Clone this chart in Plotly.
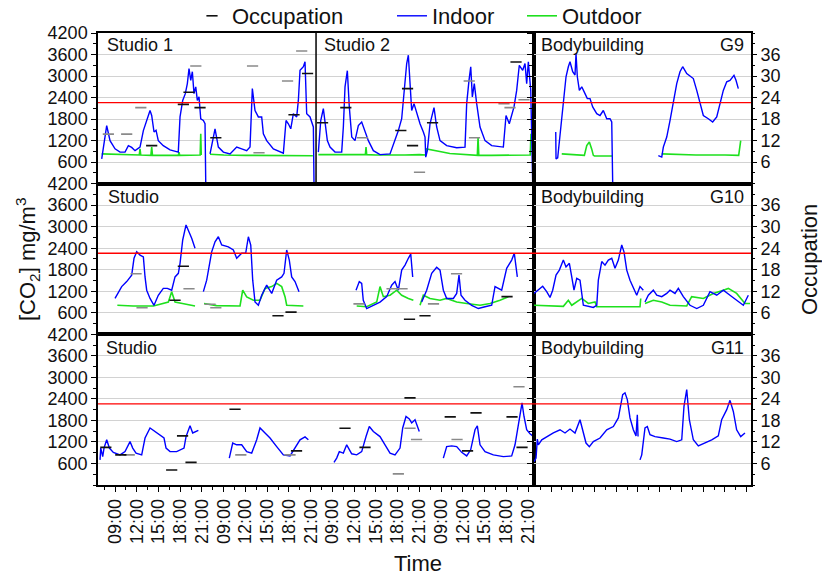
import plotly.graph_objects as go

# ---------------- data ----------------
THRESHOLD = 2260                      # mg/m3 limit (red line)
TIME_LABELS = ["09:00", "12:00", "15:00", "18:00", "21:00"]
N_DAYS_STUDIO = 4
N_DAYS_GYM = 2
CO2_TICKS = [600, 1200, 1800, 2400, 3000, 3600, 4200]
OCC_TICKS = [6, 12, 18, 24, 30, 36]

# time axis: compressed clock, hours; day k 09:00 -> 15*k, 21:00 -> 15*k+12
# ---- Studio 1 (top-left, days 1-2)
STUDIO1_INDOOR = [(-1.84, 690), (-1.15, 1620), (-0.69, 1200), (0, 970), (0.69, 880), (1.38, 880), (1.84, 1060),
                  (2.30, 1010), (2.76, 920), (3.45, 1020), (3.91, 1480), (4.37, 1760), (4.83, 2040), (5.06, 1900),
                  (5.38, 1440), (5.66, 1490), (5.97, 1200), (6.66, 1060), (7.59, 940), (8.73, 880), (8.97, 1860),
                  (9.34, 2320), (9.70, 2510), (9.98, 2790), (10.21, 3210), (10.45, 2880), (10.67, 3120),
                  (10.90, 2510), (11.14, 2700), (11.36, 2320), (11.59, 2420), (11.83, 1810), (12.19, 1760),
                  (12.42, 1670), (12.52, 0), None,
                  (13.11, 830), (13.80, 1530), (14.26, 1020), (14.95, 880), (15.87, 830), (16.79, 1020),
                  (17.48, 970), (18.17, 920), (18.63, 1020), (18.95, 2650), (19.32, 2040), (19.55, 1950),
                  (19.78, 1860), (20.24, 1860), (20.47, 1390), (20.93, 1200), (21.85, 970), (23.23, 850),
                  (23.60, 1760), (23.92, 1670), (24.25, 1530), (24.61, 1950), (25.07, 1860), (25.30, 2320),
                  (25.53, 3160), (25.99, 3260), (26.22, 3400), (26.45, 1950), (26.91, 1860), (27.37, 1580),
                  (27.46, 0)]
STUDIO1_OUTDOOR = [(-1.84, 830), (0, 820), (2.0, 800), (3.35, 800), (3.45, 970), (3.55, 800), (4.95, 790),
                   (5.06, 1020), (5.17, 790), (7.0, 790), (8.73, 790), (8.83, 880), (8.93, 790), (11.75, 800),
                   (11.83, 1390), (11.9, 800), None,
                   (13.11, 820), (15.0, 800), (18.0, 790), (21.0, 790), (24.0, 790), (27.3, 780)]
STUDIO1_OCC_BLACK = [(5.06, 10.6), (9.43, 22.1), (10.21, 25.5), (11.73, 21.2), (13.91, 12.8), (24.70, 19.2),
                     (26.57, 30.7)]
STUDIO1_OCC_GRAY = [(-0.92, 13.8), (1.61, 13.8), (3.56, 21.2), (11.15, 32.8), (18.98, 32.8), (19.87, 8.6),
                    (23.81, 28.6), (25.76, 37.0)]

# ---- Studio 2 (top-left, days 3-4)
STUDIO2_INDOOR = [(28.06, 880), (28.39, 1760), (28.75, 2090), (28.98, 1760), (29.30, 1200), (29.67, 1020),
                  (30.36, 880), (31.28, 880), (31.51, 1580), (31.74, 2700), (32.06, 3150), (32.33, 2140),
                  (32.67, 1300), (33.12, 1200), (33.58, 1620), (34.04, 1720), (34.5, 1480), (34.96, 1200),
                  (35.65, 920), (36.57, 810), (37.95, 830), (38.64, 1200), (39.10, 1480), (39.56, 1810),
                  (40.02, 2790), (40.25, 3350), (40.48, 3580), (40.71, 2930), (40.94, 2040), (41.26, 2230),
                  (41.63, 1950), (42.09, 1670), (42.55, 1440), (42.78, 1300), (42.88, 740), (43.10, 920),
                  (43.47, 1670), (44.02, 2120), (44.39, 1580), (44.85, 1200), (45.77, 1060), (47.15, 1000),
                  (48.30, 1020), (48.53, 2230), (48.85, 2880), (49.09, 3260), (49.31, 2420), (49.58, 2790),
                  (49.91, 2230), (50.37, 1580), (51.06, 1200), (51.98, 1060), (53.59, 1020), (53.96, 1900),
                  (54.41, 1670), (55.06, 2140), (55.43, 2600), (55.79, 3300), (56.26, 3160), (56.58, 3350),
                  (56.81, 2790), (57.04, 3400), (57.37, 2600), (57.64, 0)]
STUDIO2_OUTDOOR = [(28.06, 810), (30, 810), (32, 800), (34.55, 810), (34.64, 1020), (34.73, 810), (36, 800),
                   (38, 790), (40, 800), (42, 810), (42.9, 800), (43.0, 970), (44, 940), (45, 890), (46.2, 840),
                   (48.3, 820), (50.0, 790), (50.1, 1300), (50.2, 790), (52, 790), (55, 790), (57.3, 800),
                   (57.4, 1390)]
STUDIO2_OCC_BLACK = [(28.64, 17.0), (31.85, 21.2), (39.44, 14.8), (40.37, 26.5), (41.06, 10.6), (43.82, 17.0),
                     (55.34, 33.9)]
STUDIO2_OCC_GRAY = [(34.16, 12.8), (42.02, 3.2), (48.88, 28.6), (49.61, 12.8), (53.68, 22.3), (54.51, 21.2),
                    (56.44, 23.4)]

# ---- Bodybuilding G9 (top-right)
G9_INDOOR = [(0.65, 1440), (0.69, 690), (0.92, 720), (1.24, 1390), (1.48, 1810), (1.70, 2420), (2.07, 2980),
             (2.39, 3260), (2.62, 3400), (2.99, 3120), (3.31, 3030), (3.45, 3630), (3.63, 2980), (3.91, 2600),
             (4.24, 2700), (4.69, 2510), (5.01, 2370), (5.38, 2370), (5.75, 2140), (6.31, 1950), (6.76, 1900),
             (7.22, 2040), (7.69, 1810), (8.14, 1810), (8.38, 1720), (8.51, 10), (14.03, 10), None,
             (14.81, 780), (15.28, 740), (15.50, 1020), (15.97, 1300), (16.42, 1760), (16.88, 2320),
             (17.35, 2790), (17.80, 3120), (18.17, 3260), (18.73, 3070), (19.64, 2930), (20.11, 2600),
             (20.56, 2230), (21.02, 1900), (21.71, 1810), (22.31, 1720), (22.87, 1860), (23.32, 2230),
             (23.78, 2600), (24.25, 2840), (24.70, 2880), (25.25, 3020), (25.53, 2880), (25.85, 2650)]
G9_OUTDOOR = [(1.48, 830), (3.0, 810), (4.6, 790), (4.93, 1060), (5.29, 1160), (5.61, 970), (5.84, 790),
              (6.0, 770), (8.51, 770), None,
              (15.28, 830), (20, 800), (24, 800), (25.9, 790), (26.18, 1200)]

# ---- Studio (middle-left)
STUDIO_M_INDOOR = [(0, 1000), (0.92, 1330), (1.61, 1470), (2.30, 1650), (2.62, 2120), (2.99, 2300), (3.45, 2210),
                   (3.91, 2160), (4.14, 1600), (4.37, 1230), (4.83, 1000), (5.38, 810), (5.97, 1090), (6.66, 1280),
                   (7.22, 1280), (7.82, 1230), (8.28, 1600), (8.74, 1700), (8.97, 1980), (9.34, 2630),
                   (9.80, 3050), (10.12, 2910), (10.58, 2680), (11.04, 2400), None,
                   (12.19, 1190), (12.65, 1510), (13.34, 2300), (13.80, 2580), (14.26, 2720), (14.72, 2490),
                   (15.64, 2440), (16.33, 2350), (16.79, 2120), (17.48, 2260), (18.03, 2260), (18.40, 2720),
                   (18.73, 2490), (19.00, 1510), (19.32, 900), (19.78, 810), (20.24, 1090), (20.93, 1370),
                   (21.62, 1140), (22.31, 1510), (23.0, 1600), (23.32, 1700), (23.69, 2350), (24.05, 2070),
                   (24.38, 1600), (24.84, 1470), (25.39, 1190), None,
                   (33.26, 1230), (33.71, 1470), (34.04, 1420), (34.26, 950), (34.73, 720), (35.65, 810),
                   (36.57, 900), (37.49, 1050), (38.18, 1370), (38.64, 1470), (39.10, 1230), (39.56, 1790),
                   (40.02, 1930), (40.48, 2120), (40.81, 2240), (41.08, 1600), None,
                   (42.32, 900), (43.01, 1230), (43.70, 1700), (44.39, 1870), (44.85, 1790), (45.31, 1230),
                   (45.77, 1000), (46.69, 1000), (47.15, 1140), (47.47, 1650), (47.75, 1090), (48.30, 950),
                   (49.22, 810), (50.14, 720), (51.06, 770), (51.98, 810), (52.44, 1330), (53.36, 1230),
                   (54.05, 1840), (54.74, 2070), (55.10, 2260), (55.52, 1600)]
STUDIO_M_OUTDOOR = [(0.32, 810), (2.5, 790), (5.3, 790), (7.36, 900), (7.82, 1190), (8.28, 900), (9.3, 860),
                    (11.04, 790), None,
                    (12.28, 860), (14.0, 800), (17.25, 790), (17.62, 1230), (18.17, 1045), (19.09, 950),
                    (20.01, 950), (20.70, 1280), (21.62, 1330), (22.31, 1420), (23.0, 1330), (23.46, 1050),
                    (23.69, 810), (25.99, 790), None,
                    (33.35, 790), (34.73, 770), (36.11, 900), (36.57, 1330), (37.03, 1050), (37.95, 1090),
                    (38.87, 1230), (39.56, 1090), (40.48, 1000), (41.17, 950), None,
                    (42.09, 810), (42.55, 1090), (43.47, 1000), (44.85, 950), (45.77, 1000), (47.15, 900),
                    (48.53, 860), (50.37, 810), (51.75, 860), (53.13, 950), (54.28, 1050)]
STUDIO_M_OCC_BLACK = [(8.28, 9.5), (9.43, 19.0), (22.49, 5.2), (24.29, 6.2), (40.64, 4.2), (42.78, 5.2),
                      (54.1, 10.5)]
STUDIO_M_OCC_GRAY = [(2.90, 16.9), (3.73, 7.4), (10.21, 12.7), (13.11, 8.4), (13.91, 7.4), (33.67, 8.5),
                     (38.23, 12.7), (39.61, 12.7), (43.95, 8.5), (47.13, 16.9)]

# ---- Bodybuilding G10 (middle-right)
G10_INDOOR = [(-2.35, 1140), (-1.75, 1230), (-1.15, 1340), (-0.60, 1190), (-0.14, 1030), (0.23, 1230),
              (0.69, 1650), (1.15, 1790), (1.70, 2070), (2.07, 1880), (2.53, 1980), (2.86, 1600), (3.17, 1230),
              (3.55, 1560), (4.0, 1510), (4.24, 1140), (4.46, 810), (5.84, 750), (6.31, 810), (6.53, 1510),
              (7.0, 2030), (7.45, 1930), (7.91, 2070), (8.38, 2120), (8.83, 1840), (9.29, 2070), (9.76, 2490),
              (10.07, 2300), (10.45, 1790), (10.90, 1510), (11.36, 1280), (11.83, 1090), (12.28, 1330),
              (12.74, 1230), None,
              (12.97, 900), (13.43, 1090), (14.12, 1230), (14.59, 1090), (15.28, 1050), (15.97, 1140),
              (16.42, 1230), (17.11, 1140), (17.57, 1280), (18.26, 1050), (19.18, 810), (20.11, 720),
              (21.02, 810), (21.94, 1190), (22.87, 1090), (23.78, 1230), (24.70, 1090), (25.62, 950),
              (26.54, 810), (27.23, 1090)]
G10_OUTDOOR = [(-2.35, 810), (1.70, 780), (2.39, 950), (2.86, 810), (4.24, 1000), (5.15, 860), (6.07, 900),
               (6.31, 770), (12.28, 770), (12.38, 1000), None,
               (12.97, 860), (14.12, 950), (15.28, 900), (16.42, 810), (18.73, 790), (19.41, 1050),
               (21.02, 1000), (22.40, 1140), (23.78, 1230), (24.47, 1280), (25.62, 1140), (26.77, 860),
               (27.46, 860)]

# ---- Studio (bottom-left)
STUDIO_B_INDOOR = [(-2.07, 700), (-1.97, 1030), (-1.70, 790), (-1.52, 1030), (-1.15, 1260), (-0.78, 1030),
                   (-0.23, 910), (0.69, 840), (1.38, 930), (2.07, 1210), (2.44, 1030), (2.90, 890), (3.68, 840),
                   (4.14, 1310), (4.83, 1590), (5.52, 1490), (6.21, 1400), (6.76, 1310), (7.04, 1030),
                   (7.59, 930), (8.51, 930), (9.52, 1030), (9.80, 1350), (10.35, 1650), (10.72, 1450),
                   (11.50, 1520), None,
                   (15.77, 750), (16.24, 1170), (16.79, 1120), (17.48, 1120), (18.17, 930), (18.86, 890),
                   (19.55, 1260), (20.01, 1590), (20.70, 1450), (21.39, 1310), (22.31, 1070), (23.23, 840),
                   (24.15, 810), (24.84, 1030), (25.53, 1260), (26.22, 1340), (26.68, 1260), None,
                   (30.22, 630), (30.59, 750), (30.95, 930), (31.51, 890), (31.97, 1120), (32.66, 870),
                   (33.35, 840), (34.04, 930), (34.64, 1350), (35.09, 1630), (35.65, 1490), (36.57, 1350),
                   (37.26, 1120), (37.95, 890), (38.64, 840), (39.33, 1030), (39.70, 1590), (40.16, 1910),
                   (40.61, 1840), (40.94, 1730), (41.40, 1820), (41.99, 1490), None,
                   (45.31, 750), (45.77, 1070), (46.46, 1090), (47.15, 1070), (47.84, 910), (48.53, 810),
                   (49.08, 980), (49.68, 1540), (50.00, 1650), (50.37, 1120), (51.06, 930), (52.21, 840),
                   (53.59, 790), (54.74, 810), (55.20, 1120), (55.66, 1730), (55.89, 1910), (56.17, 2290),
                   (56.44, 1910), (56.81, 1540), (57.27, 1430), (57.64, 1370)]
STUDIO_B_OCC_BLACK = [(-1.27, 10.5), (0.80, 8.4), (7.82, 4.2), (9.32, 13.7), (10.49, 6.3), (16.56, 21.1),
                      (25.05, 9.5), (31.74, 15.8), (34.50, 10.5), (40.71, 24.3), (46.26, 19.0), (48.65, 9.5),
                      (49.82, 20.1), (54.79, 19.0), (56.17, 10.5)]
STUDIO_B_OCC_GRAY = [(1.96, 8.4), (17.36, 8.4), (24.15, 8.4), (39.10, 3.1), (40.71, 15.8), (41.61, 12.7),
                     (47.20, 12.7), (55.75, 27.4)]

# ---- Bodybuilding G11 (bottom-right)
G11_INDOOR = [(-2.35, 650), (-2.07, 750), (-1.89, 1280), (-1.75, 1120), (-1.28, 1260), (-0.60, 1350),
              (0.32, 1450), (1.24, 1540), (1.93, 1450), (2.62, 1560), (3.31, 1450), (4.0, 1820), (4.37, 1540),
              (4.83, 1170), (5.29, 1070), (5.84, 1210), (6.76, 1310), (7.69, 1540), (8.60, 1630), (9.29, 1870),
              (9.89, 2520), (10.21, 2570), (10.53, 2380), (10.90, 1870), (11.36, 1540), (11.73, 1370),
              (11.91, 1960), (12.01, 1350), None,
              (12.28, 700), (12.52, 840), (12.97, 1590), (13.29, 1630), (13.66, 1400), (14.35, 1350),
              (15.50, 1310), (16.42, 1280), (17.35, 1210), (18.04, 1260), (18.35, 2190), (18.73, 2660),
              (19.09, 1820), (19.64, 1260), (20.33, 1090), (21.25, 1170), (22.18, 1260), (23.09, 1370),
              (23.55, 1820), (24.25, 2100), (24.70, 2360), (25.16, 2050), (25.62, 1540), (26.18, 1350),
              (26.77, 1450)]

# ---------------- helpers / style ----------------
FONT = "Liberation Sans, Arial, sans-serif"
BLUE = "#0000ff"
GREEN = "#1ee01e"
OCC_BLACK = "#111111"
OCC_GRAY = "#8a8a8a"
DAY_SLOT = 15                      # hours of axis per day (09-21 + gap)
X_LEFT = -2.35
X_RIGHT_STUDIO = 57.82
X_RIGHT_GYM = 27.6
STUDIO_SPLIT = 27.74               # border between Studio 1 and Studio 2


def unzip(pairs):
    xs, ys = [], []
    for p in pairs:
        if p is None:
            xs.append(None)
            ys.append(None)
        else:
            xs.append(p[0])
            ys.append(p[1])
    return xs, ys


def tick_positions(n_days):
    return [d * DAY_SLOT + int(lab[:2]) - 9 for d in range(n_days) for lab in TIME_LABELS]


fig = go.Figure()

W_PLOT = 653.0
SPLIT = 436.0 / W_PLOT
PANELS = {1: (1, "L"), 2: (1, "R"), 3: (2, "L"), 4: (2, "R"), 5: (3, "L"), 6: (3, "R")}
ROW_DOM = {1: [2 / 3, 1], 2: [1 / 3, 2 / 3], 3: [0, 1 / 3]}


def ax(prefix, i):
    return prefix if i == 1 else f"{prefix}{i}"


def add_line(i, pairs, color, name, legend, show, width):
    xs, ys = unzip(pairs)
    fig.add_trace(go.Scatter(x=xs, y=ys, mode="lines", line=dict(color=color, width=width),
                             name=name, legend=legend, showlegend=show, connectgaps=False,
                             xaxis=ax("x", i), yaxis=ax("y", i), hoverinfo="skip"))


def add_occ(i, pairs, color, show):
    xs, ys = unzip(pairs)
    fig.add_trace(go.Scatter(x=xs, y=ys, mode="markers",
                             marker=dict(symbol="line-ew", size=8, line=dict(color=color, width=1.6)),
                             name="Occupation", legend="legend", showlegend=show,
                             xaxis=ax("x", i), yaxis=f"y{i + 6}", hoverinfo="skip"))


# top row
add_line(1, STUDIO1_OUTDOOR + [None] + STUDIO2_OUTDOOR, GREEN, "Outdoor", "legend3", True, 1.6)
add_line(1, STUDIO1_INDOOR + [None] + STUDIO2_INDOOR, BLUE, "Indoor", "legend2", True, 1.4)
add_occ(1, STUDIO1_OCC_GRAY + STUDIO2_OCC_GRAY, OCC_GRAY, False)
add_occ(1, STUDIO1_OCC_BLACK + STUDIO2_OCC_BLACK, OCC_BLACK, True)
add_line(2, G9_OUTDOOR, GREEN, "Outdoor", "legend3", False, 1.6)
add_line(2, G9_INDOOR, BLUE, "Indoor", "legend2", False, 1.4)
add_occ(2, [], OCC_BLACK, False)          # gym panels: no occupation recorded (keeps right axis)
# middle row
add_line(3, STUDIO_M_OUTDOOR, GREEN, "Outdoor", "legend3", False, 1.6)
add_line(3, STUDIO_M_INDOOR, BLUE, "Indoor", "legend2", False, 1.4)
add_occ(3, STUDIO_M_OCC_GRAY, OCC_GRAY, False)
add_occ(3, STUDIO_M_OCC_BLACK, OCC_BLACK, False)
add_line(4, G10_OUTDOOR, GREEN, "Outdoor", "legend3", False, 1.6)
add_line(4, G10_INDOOR, BLUE, "Indoor", "legend2", False, 1.4)
add_occ(4, [], OCC_BLACK, False)
# bottom row
add_line(5, STUDIO_B_INDOOR, BLUE, "Indoor", "legend2", False, 1.4)
add_occ(5, STUDIO_B_OCC_GRAY, OCC_GRAY, False)
add_occ(5, STUDIO_B_OCC_BLACK, OCC_BLACK, False)
add_line(6, G11_INDOOR, BLUE, "Indoor", "legend2", False, 1.4)
add_occ(6, [], OCC_BLACK, False)

layout = {}
shapes = []
tickfont = dict(family=FONT, size=18, color="#111111")
for i, (row, col) in PANELS.items():
    xdom = [0, SPLIT] if col == "L" else [SPLIT, 1]
    xr = [X_LEFT, X_RIGHT_STUDIO] if col == "L" else [X_LEFT, X_RIGHT_GYM]
    xa = dict(domain=xdom, anchor=ax("y", i), range=xr, showgrid=False, zeroline=False,
              showline=True, linecolor="black", linewidth=1.5, mirror=True, ticks="",
              showticklabels=False)
    if row == 3:
        ndays = N_DAYS_STUDIO if col == "L" else N_DAYS_GYM
        xa.update(tickmode="array", tickvals=tick_positions(ndays),
                  ticktext=TIME_LABELS * ndays, ticks="outside", ticklen=5, tickcolor="black",
                  showticklabels=(col == "L"), tickangle=-90, tickfont=tickfont,
                  minor=dict(ticks="outside", ticklen=3, tickcolor="black", tick0=0, dtick=1.5))
    layout[ax("xaxis", i)] = xa
    ya = dict(domain=ROW_DOM[row], anchor=ax("x", i), range=[0, 4200], tickmode="array",
              tickvals=CO2_TICKS, showticklabels=(col == "L"), ticks="outside", ticklen=5,
              tickcolor="black", tickfont=tickfont, showgrid=True, gridcolor="#d2d2d2", gridwidth=1,
              zeroline=False, showline=True, linecolor="black", linewidth=1.5, mirror=True,
              minor=dict(ticks="outside", ticklen=3, tickcolor="black", tick0=0, dtick=300, showgrid=False))
    layout[ax("yaxis", i)] = ya
    oa = dict(overlaying=ax("y", i), anchor=ax("x", i), side="right", range=[0, 42],
              showgrid=False, zeroline=False)
    if col == "R":
        oa.update(tickmode="array", tickvals=OCC_TICKS, ticks="outside", ticklen=5, tickcolor="black",
                  tickfont=tickfont, showline=False, showticklabels=True,
                  minor=dict(ticks="outside", ticklen=3, tickcolor="black", tick0=0, dtick=3))
    else:
        oa.update(visible=False)
    layout[f"yaxis{i + 6}"] = oa
    shapes.append(dict(type="line", xref=f"{ax('x', i)} domain", yref=ax("y", i), x0=0, x1=1,
                       y0=THRESHOLD, y1=THRESHOLD, line=dict(color="red", width=1.3), layer="above"))

shapes.append(dict(type="line", xref="x", yref="y domain", x0=STUDIO_SPLIT, x1=STUDIO_SPLIT, y0=0, y1=1,
                   line=dict(color="black", width=1.5)))


def px_x(px):
    return (px - 98) / W_PLOT


def px_y(py):
    return (485 - py) / 452.0


label_font = dict(family=FONT, size=18, color="#111111")
annotations = []
PANEL_LABELS = [("Studio 1", 105, 45, "left"), ("Studio 2", 322, 45, "left"),
                ("Bodybuilding", 539, 45, "left"), ("G9", 746, 45, "right"),
                ("Studio", 106, 197, "left"), ("Bodybuilding", 539, 197, "left"), ("G10", 746, 197, "right"),
                ("Studio", 104, 348, "left"), ("Bodybuilding", 539, 348, "left"), ("G11", 746, 348, "right")]
for txt, x, y, anc in PANEL_LABELS:
    annotations.append(dict(text=txt, xref="paper", yref="paper", x=px_x(x), y=px_y(y), xanchor=anc,
                            yanchor="middle", showarrow=False, font=label_font))

title_font = dict(family=FONT, size=22, color="#111111")
annotations.append(dict(text="Time", xref="paper", yref="paper", x=px_x(418), y=px_y(563),
                        xanchor="center", yanchor="middle", showarrow=False, font=title_font))
annotations.append(dict(text="[CO<sub>2</sub>] mg/m<sup>3</sup>", xref="paper", yref="paper",
                        x=px_x(27), y=px_y(260), xanchor="center", yanchor="middle", textangle=-90,
                        showarrow=False, font=title_font))
annotations.append(dict(text="Occupation", xref="paper", yref="paper", x=px_x(809), y=px_y(260),
                        xanchor="center", yanchor="middle", textangle=-90, showarrow=False, font=title_font))

legend_common = dict(orientation="h", xref="container", yref="container", yanchor="middle",
                     y=1 - 16 / 576.0, xanchor="left",
                     font=dict(family=FONT, size=22, color="#111111"), bgcolor="rgba(0,0,0,0)",
                     borderwidth=0)
layout["legend"] = dict(legend_common, x=192 / 822.0)
layout["legend2"] = dict(legend_common, x=392 / 822.0)
layout["legend3"] = dict(legend_common, x=522 / 822.0)

fig.update_layout(**layout)
fig.update_layout(width=822, height=576, margin=dict(l=98, r=71, t=33, b=91, autoexpand=False),
                  paper_bgcolor="white", plot_bgcolor="white", shapes=shapes, annotations=annotations,
                  font=dict(family=FONT, color="#111111"))

fig.write_html("out.html")
